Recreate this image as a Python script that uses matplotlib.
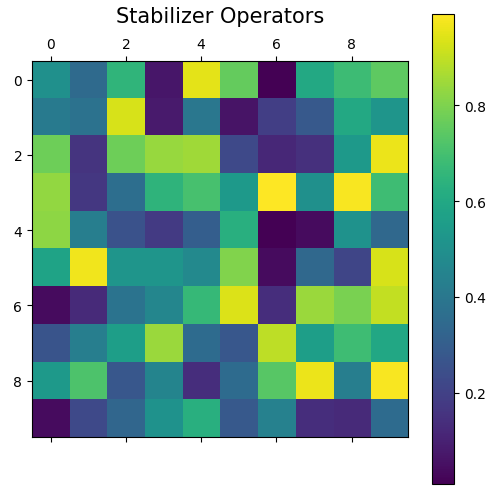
import numpy as np
import matplotlib
matplotlib.use('Agg')
import matplotlib.pyplot as plt

# values (10x10 stabilizer matrix)
row0 = [0.50, 0.35, 0.65, 0.07, 0.95, 0.76, 0.01, 0.60, 0.68, 0.745]
row1 = [0.41, 0.38, 0.93, 0.08, 0.40, 0.06, 0.19, 0.285, 0.60, 0.52]
row2 = [0.775, 0.157, 0.775, 0.84, 0.85, 0.225, 0.118, 0.147, 0.54, 0.96]
row3 = [0.83, 0.167, 0.363, 0.647, 0.706, 0.54, 0.99, 0.50, 0.98, 0.686]
row4 = [0.823, 0.43, 0.255, 0.177, 0.304, 0.627, 0.01, 0.04, 0.51, 0.343]
row5 = [0.578, 0.97, 0.52, 0.52, 0.47, 0.804, 0.04, 0.343, 0.216, 0.93]
row6 = [0.04, 0.128, 0.382, 0.461, 0.667, 0.94, 0.137, 0.843, 0.794, 0.90]
row7 = [0.265, 0.43, 0.559, 0.843, 0.353, 0.275, 0.892, 0.559, 0.686, 0.598]
row8 = [0.54, 0.716, 0.275, 0.451, 0.137, 0.353, 0.735, 0.96, 0.43, 0.98]
row9 = [0.04, 0.226, 0.333, 0.51, 0.627, 0.285, 0.44, 0.137, 0.128, 0.353]

data = np.array([row0, row1, row2, row3, row4, row5, row6, row7, row8, row9])

fig = plt.figure(figsize=(4.95, 4.89), dpi=100)
ax = fig.add_axes([0.0646, 0.1043, 0.7596, 0.769])
cax = fig.add_axes([0.873, 0.0082, 0.0444, 0.961])

im = ax.matshow(data, cmap='viridis')
fig.colorbar(im, cax=cax)
ax.set_title('Stabilizer Operators', fontsize=15, pad=11)

fig.savefig('out.png', dpi=100)
